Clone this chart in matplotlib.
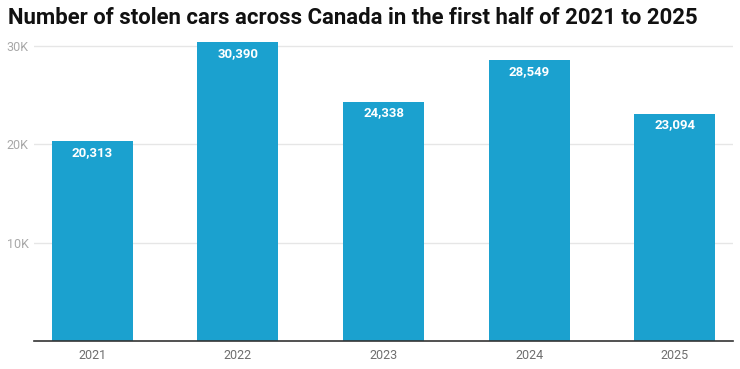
import matplotlib
matplotlib.use("Agg")
import matplotlib.pyplot as plt
from matplotlib.ticker import FixedLocator

plt.rcParams['font.family'] = ['Roboto', 'DejaVu Sans']

years = ["2021", "2022", "2023", "2024", "2025"]
stolen = [20313, 30390, 24338, 28549, 23094]
ytick_vals = [10000, 20000, 30000]
ytick_labels = ["10K", "20K", "30K"]
title = "Number of stolen cars across Canada in the first half of 2021 to 2025"

fig = plt.figure(figsize=(7.4, 3.69), dpi=100)
ax = fig.add_axes([34/740, 1-341/369, (733-34)/740, (341-42)/369])

x = list(range(len(years)))
bars = ax.bar(x, stolen, width=0.556, color="#1ba1cf", zorder=3)
ax.set_xlim(-0.4, len(years) - 0.6)
ax.set_ylim(0, 30400)

ax.yaxis.set_major_locator(FixedLocator(ytick_vals))
ax.set_yticklabels(ytick_labels)
ax.set_xticks(x)
ax.set_xticklabels(years)
ax.tick_params(axis='y', length=0, pad=4, labelsize=9, labelcolor="#a8a8a8")
ax.tick_params(axis='x', length=0, pad=6, labelsize=9, labelcolor="#6e6e6e")
ax.grid(axis='y', color="#e6e6e6", linewidth=1, zorder=0)
for s in ["top", "right", "left"]:
    ax.spines[s].set_visible(False)
ax.spines["bottom"].set_color("#333333")
ax.spines["bottom"].set_linewidth(1.2)
ax.spines["bottom"].set_zorder(4)

for xi, v in zip(x, stolen):
    ax.annotate(f"{v:,}", (xi, v), xytext=(0, -8), textcoords="offset points",
                ha="center", va="center", color="white", fontsize=9.5,
                fontweight="bold", zorder=5)

fig.text(8/740, 1-18/369, title, ha="left", va="center", fontsize=15.9,
         fontweight="bold", color="#111111")

fig.savefig("out.png", dpi=100)
